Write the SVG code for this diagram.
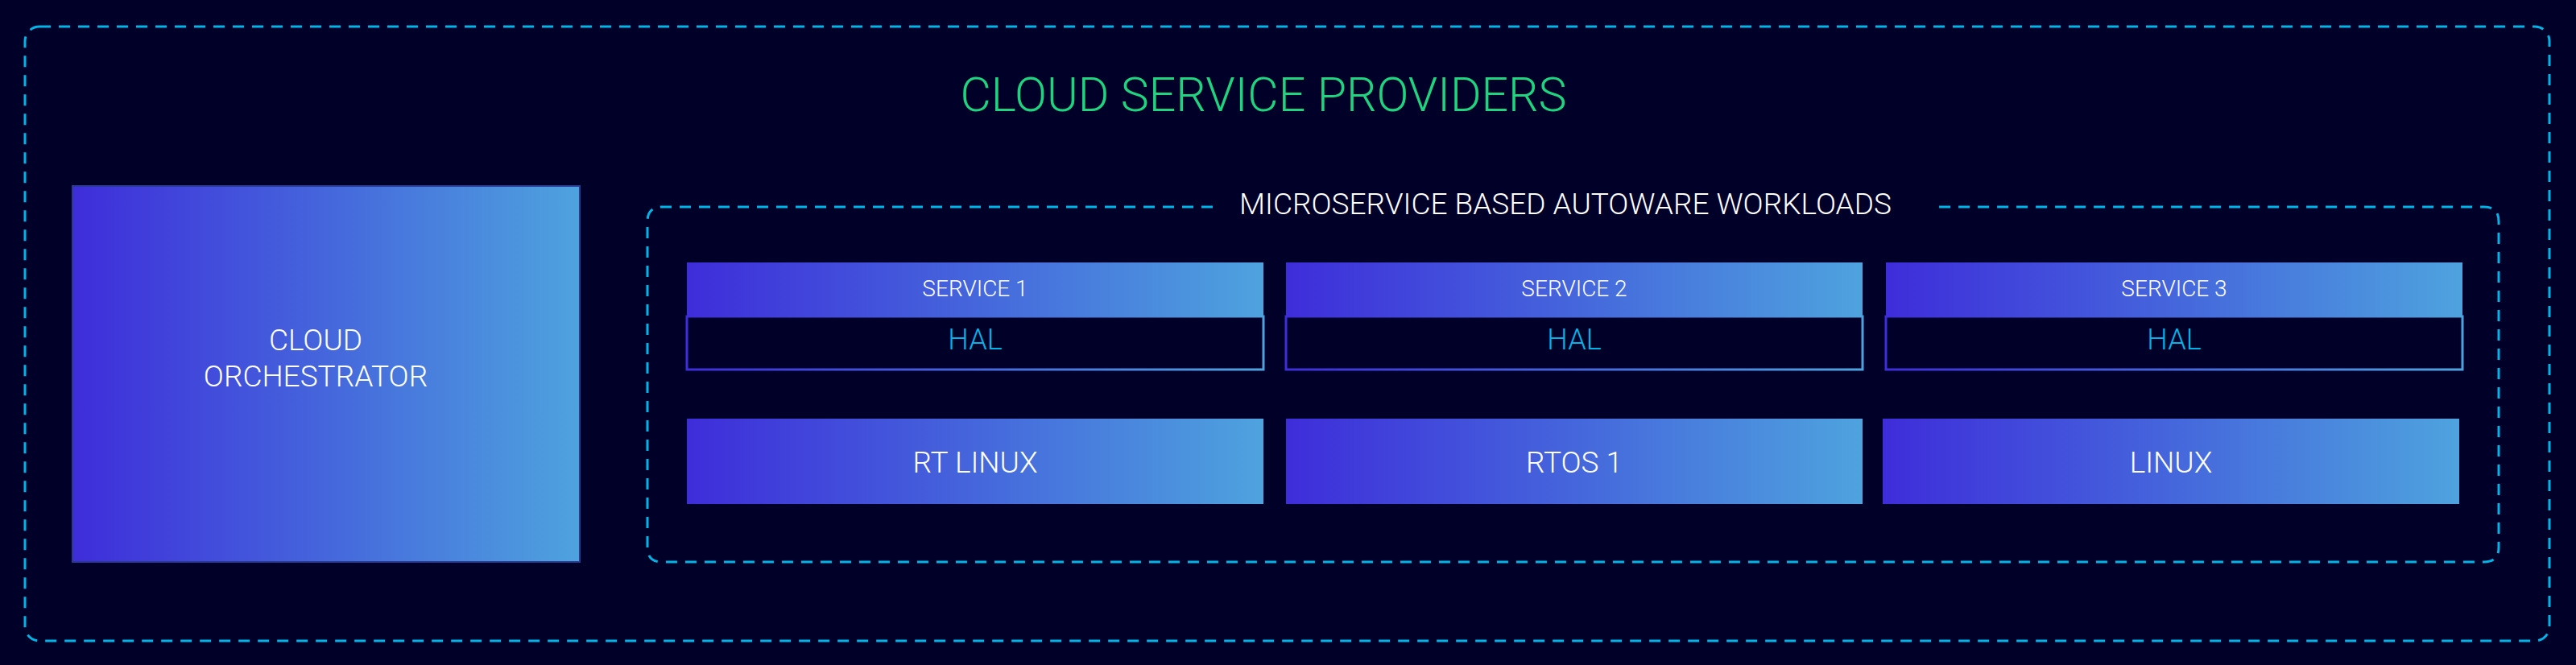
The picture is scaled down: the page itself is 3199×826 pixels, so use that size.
<svg xmlns="http://www.w3.org/2000/svg" width="3199" height="826" viewBox="0 0 3199 826">
<defs>
<linearGradient id="g" x1="0" y1="0" x2="1" y2="0"><stop offset="0" stop-color="#3e2dda"/><stop offset="0.5" stop-color="#4566dc"/><stop offset="1" stop-color="#4ea3de"/></linearGradient>
<style>
.t{font-family:Roboto,"Liberation Sans",sans-serif;font-weight:300;fill:#fff;text-anchor:middle}
.d{fill:none;stroke:#00b4e8;stroke-width:3;stroke-dasharray:14 10}
.b{fill:url(#g)}
.h{fill:#000028;stroke:url(#g);stroke-width:3}
.hal{font-family:Roboto,"Liberation Sans",sans-serif;font-weight:300;fill:#00b4e8;text-anchor:middle;font-size:36px}
</style>
</defs>
<rect width="3199" height="826" fill="#000028"/>
<g id="outer">
<rect class="d" x="31" y="33" width="3135" height="763" rx="18"/>
<text class="t" x="1569" y="138" font-size="59" style="fill:#1ed47e">CLOUD SERVICE PROVIDERS</text>
</g>
<g id="orchestrator">
<rect class="b" x="90" y="231" width="630" height="467" stroke="#2a3a90" stroke-width="2"/>
<text class="t" x="392" y="435" font-size="37">CLOUD</text>
<text class="t" x="392" y="480" font-size="37">ORCHESTRATOR</text>
</g>
<g id="workloads">
<path class="d" d="M1506 257 H822 Q804 257 804 275 V680 Q804 698 822 698 H3085 Q3103 698 3103 680 V275 Q3103 257 3085 257 H2403"/>
<text class="t" x="1944" y="266" font-size="37">MICROSERVICE BASED AUTOWARE WORKLOADS</text>
</g>
<g id="service1">
<rect class="h" x="853" y="393" width="716" height="66"/>
<rect class="b" x="853" y="326" width="716" height="67"/>
<text class="t" x="1211" y="368" font-size="28">SERVICE 1</text>
<text class="hal" x="1211" y="434">HAL</text>
</g>
<g id="service2">
<rect class="h" x="1597" y="393" width="716" height="66"/>
<rect class="b" x="1597" y="326" width="716" height="67"/>
<text class="t" x="1955" y="368" font-size="28">SERVICE 2</text>
<text class="hal" x="1955" y="434">HAL</text>
</g>
<g id="service3">
<rect class="h" x="2342" y="393" width="716" height="66"/>
<rect class="b" x="2342" y="326" width="716" height="67"/>
<text class="t" x="2700" y="368" font-size="28">SERVICE 3</text>
<text class="hal" x="2700" y="434">HAL</text>
</g>
<g id="rtlinux">
<rect class="b" x="853" y="520" width="716" height="106"/>
<text class="t" x="1211" y="587" font-size="37">RT LINUX</text>
</g>
<g id="rtos1">
<rect class="b" x="1597" y="520" width="716" height="106"/>
<text class="t" x="1955" y="587" font-size="37">RTOS 1</text>
</g>
<g id="linux">
<rect class="b" x="2338" y="520" width="716" height="106"/>
<text class="t" x="2696" y="587" font-size="37">LINUX</text>
</g>
<g id="connectors"/>
</svg>
